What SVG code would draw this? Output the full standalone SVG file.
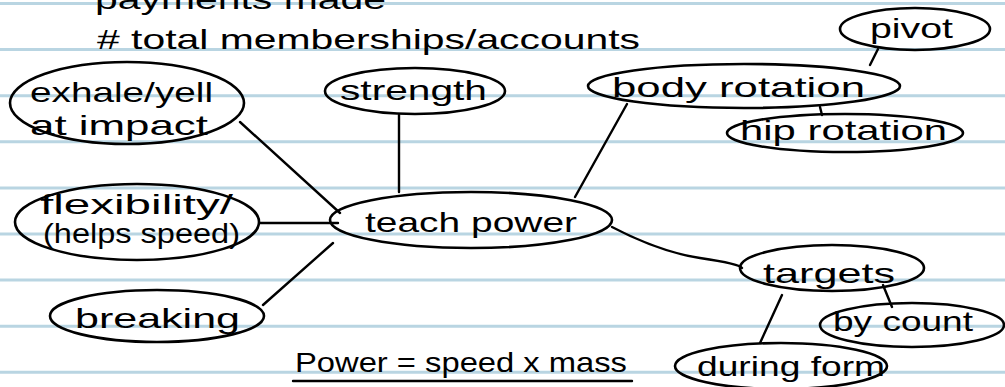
<svg xmlns="http://www.w3.org/2000/svg" width="1005" height="387" viewBox="0 0 1005 387">
<style>
.rule{stroke:#b9d5e2;stroke-width:3}
.node{fill:none;stroke:#000;stroke-width:2.6}
.edge{fill:none;stroke:#000;stroke-width:2.4;stroke-linecap:round}
text{font-family:"Liberation Sans","DejaVu Sans",sans-serif;fill:#000;font-size:28px}
</style>
<rect width="1005" height="387" fill="#fff"/>
<g id="paper">
<line class="rule" x1="0" y1="3.5" x2="1005" y2="3.5"/>
<line class="rule" x1="0" y1="49.6" x2="1005" y2="49.6"/>
<line class="rule" x1="0" y1="95.7" x2="1005" y2="95.7"/>
<line class="rule" x1="0" y1="141.8" x2="1005" y2="141.8"/>
<line class="rule" x1="0" y1="187.9" x2="1005" y2="187.9"/>
<line class="rule" x1="0" y1="234" x2="1005" y2="234"/>
<line class="rule" x1="0" y1="280.1" x2="1005" y2="280.1"/>
<line class="rule" x1="0" y1="326.2" x2="1005" y2="326.2"/>
<line class="rule" x1="0" y1="372.3" x2="1005" y2="372.3"/>
</g>
<g id="header">
<text x="95" y="9" font-size="34" textLength="291" lengthAdjust="spacingAndGlyphs">payments made</text>
<text x="97" y="49" font-size="34" textLength="543" lengthAdjust="spacingAndGlyphs"># total memberships/accounts</text>
</g>
<g id="connectors">
<line class="edge" x1="240" y1="122" x2="340" y2="213"/>
<line class="edge" x1="399" y1="115" x2="399" y2="192"/>
<line class="edge" x1="627" y1="104" x2="575" y2="197"/>
<line class="edge" x1="260" y1="223" x2="338" y2="223"/>
<line class="edge" x1="263" y1="305" x2="333" y2="243"/>
<path class="edge" d="M612 227 Q660 252 700 258 T742 268"/>
<line class="edge" x1="878" y1="49" x2="870" y2="65"/>
<line class="edge" x1="820" y1="107" x2="822" y2="115"/>
<line class="edge" x1="782" y1="295" x2="760" y2="343"/>
<line class="edge" x1="883" y1="285" x2="892" y2="307"/>
</g>
<g id="n-exhale">
<ellipse class="node" cx="127" cy="103" rx="117" ry="41"/>
<text x="30" y="102" textLength="183" lengthAdjust="spacingAndGlyphs">exhale/yell</text>
<text x="30" y="135" textLength="178" lengthAdjust="spacingAndGlyphs">at impact</text>
</g>
<g id="n-strength">
<ellipse class="node" cx="415" cy="91" rx="90" ry="23"/>
<text x="340" y="100" textLength="147" lengthAdjust="spacingAndGlyphs">strength</text>
</g>
<g id="n-body">
<ellipse class="node" cx="744" cy="86" rx="156" ry="22"/>
<text x="612" y="97" textLength="253" lengthAdjust="spacingAndGlyphs">body rotation</text>
</g>
<g id="n-pivot">
<ellipse class="node" cx="915" cy="29" rx="75" ry="21"/>
<text x="870" y="38" textLength="83" lengthAdjust="spacingAndGlyphs">pivot</text>
</g>
<g id="n-hip">
<ellipse class="node" cx="845" cy="133" rx="118" ry="19"/>
<text x="740" y="140" font-size="26" textLength="207" lengthAdjust="spacingAndGlyphs">hip rotation</text>
</g>
<g id="n-teach">
<ellipse class="node" cx="471" cy="220" rx="141" ry="28"/>
<text x="365" y="232" font-size="30" textLength="212" lengthAdjust="spacingAndGlyphs">teach power</text>
</g>
<g id="n-flex">
<ellipse class="node" cx="137" cy="222" rx="122" ry="38"/>
<text x="40" y="214" font-size="26" textLength="193" lengthAdjust="spacingAndGlyphs">flexibility/</text>
<text x="43" y="243" font-size="22" textLength="197" lengthAdjust="spacingAndGlyphs">(helps speed)</text>
</g>
<g id="n-breaking">
<ellipse class="node" cx="157" cy="316" rx="107" ry="26"/>
<text x="75" y="328" font-size="30" textLength="165" lengthAdjust="spacingAndGlyphs">breaking</text>
</g>
<g id="n-targets">
<ellipse class="node" cx="832" cy="268" rx="92" ry="23"/>
<text x="763" y="283" textLength="132" lengthAdjust="spacingAndGlyphs">targets</text>
</g>
<g id="n-bycount">
<ellipse class="node" cx="912" cy="325" rx="92" ry="22"/>
<text x="833" y="331" textLength="140" lengthAdjust="spacingAndGlyphs">by count</text>
</g>
<g id="n-during">
<ellipse class="node" cx="781" cy="366" rx="106" ry="23"/>
<text x="697" y="376" textLength="188" lengthAdjust="spacingAndGlyphs">during form</text>
</g>
<g id="formula">
<text x="295" y="372" font-size="30" textLength="332" lengthAdjust="spacingAndGlyphs">Power = speed x mass</text>
<line class="edge" x1="293" y1="381" x2="632" y2="381"/>
</g>
</svg>
